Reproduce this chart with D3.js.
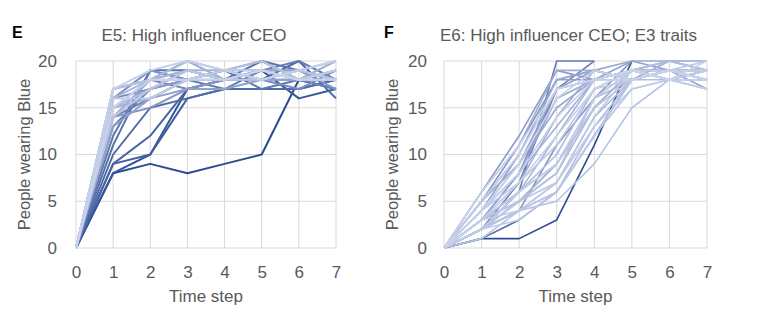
<!DOCTYPE html>
<html><head><meta charset="utf-8">
<script src="https://cdn.jsdelivr.net/npm/d3@7"></script>
<style>body{margin:0;background:#fff}svg{display:block}text{font-family:"Liberation Sans",Arial,sans-serif}</style>
</head><body><svg id="c" width="763" height="323"></svg>
<script>
const timeSteps = [0,1,2,3,4,5,6,7];
const yTicks = [0,5,10,15,20];
const panelLetters = ["E","F"];
const panelTitles = ["E5: High influencer CEO","E6: High influencer CEO; E3 traits"];
const xAxisTitle = "Time step";
const yAxisTitle = "People wearing Blue";

// E5 runs (dark -> light)
const e5Runs = [
  [0,8,9,8,9,10,18,17],
  [0,8,10,17,18,19,16,17],
  [0,9,10,16,17,17,17,18],
  [0,9,12,17,18,18,20,16],
  [0,10,15,16,17,17,17,18],
  [0,11,19,19,18,20,19,18],
  [0,12,19,18,19,17,18,17],
  [0,13,17,18,17,19,20,18],
  [0,14,16,18,19,20,18,17],
  [0,15,18,17,18,19,19,18],
  [0,16,17,19,18,18,17,19],
  [0,16,19,18,18,19,19,18],
  [0,14,15,17,18,18,19,17],
  [0,15,17,18,19,18,18,19],
  [0,13,16,17,17,18,18,18],
  [0,17,18,19,18,19,18,19],
  [0,14,18,20,18,19,19,18],
  [0,15,16,18,19,19,18,20],
  [0,17,18,19,19,18,19,18],
  [0,16,18,20,19,18,19,20],
  [0,15,17,19,18,19,18,18],
  [0,17,18,18,19,20,18,19],
  [0,14,17,19,18,18,19,18],
  [0,16,16,18,19,19,18,19],
  [0,17,19,20,19,18,19,20],
  [0,15,18,18,18,19,18,18]
];

// E6 runs (dark -> light); null = run finished
const e6Runs = [
  [0,1,1,3,11,20,null,null],
  [0,1,3,6,12,18,19,19],
  [0,2,6,20,20,null,null,null],
  [0,2,7,17,20,null,null,null],
  [0,3,8,17,18,19,19,18],
  [0,2,5,9,15,19,19,19],
  [0,2,4,11,16,20,null,null],
  [0,5,11,18,19,18,19,18],
  [0,6,12,19,18,19,20,19],
  [0,4,10,18,18,19,18,19],
  [0,5,9,17,19,18,19,17],
  [0,3,8,16,18,20,19,18],
  [0,4,9,15,18,19,18,19],
  [0,5,10,18,19,20,20,20],
  [0,6,11,19,19,18,19,18],
  [0,3,7,14,19,18,20,19],
  [0,4,8,13,18,19,18,17],
  [0,5,9,16,18,19,20,19],
  [0,3,6,12,18,18,19,18],
  [0,2,5,9,16,18,19,18],
  [0,3,5,8,15,19,18,18],
  [0,2,4,7,14,18,19,19],
  [0,3,6,10,17,19,18,17],
  [0,2,4,6,13,18,18,19],
  [0,3,5,8,16,19,20,19],
  [0,1,4,5,9,15,18,18],
  [0,2,4,6,12,17,18,17],
  [0,3,6,9,15,18,19,18],
  [0,2,5,7,14,19,18,19],
  [0,4,7,11,17,18,19,20],
  [0,2,3,6,12,18,19,18],
  [0,3,4,7,13,17,18,19],
  [0,2,6,9,16,19,19,18],
  [0,4,8,14,18,19,18,18],
  [0,5,10,17,18,18,19,19],
  [0,3,7,12,17,19,18,17],
  [0,4,9,16,19,18,19,18],
  [0,6,11,17,18,19,18,20]
];

const svg = d3.select("#c");
const grey = "#595959";

const panels = [
  {left:76, right:336, letterX:12, runs:e5Runs, yLabX:57, yTitleX:30, exp:0.8, width:2},
  {left:444, right:707, letterX:384, runs:e6Runs, yLabX:427, yTitleX:398, exp:0.35, width:1.6}
];
const plotTop = 61, plotBottom = 248;

panels.forEach((p,pi)=>{
  const x = d3.scaleLinear().domain([0,7]).range([p.left,p.right]);
  const y = d3.scaleLinear().domain([0,20]).range([plotBottom,plotTop]);
  const g = svg.append("g");
  g.selectAll(".vg").data(timeSteps).join("line")
    .attr("x1",d=>x(d)).attr("x2",d=>x(d)).attr("y1",plotTop).attr("y2",plotBottom)
    .attr("stroke","#d9d9d9").attr("stroke-width",1);
  g.selectAll(".hg").data(yTicks).join("line")
    .attr("x1",p.left).attr("x2",p.right).attr("y1",d=>y(d)).attr("y2",d=>y(d))
    .attr("stroke","#d9d9d9").attr("stroke-width",1);
  const xa = g.append("g").attr("transform",`translate(0,${plotBottom})`)
    .call(d3.axisBottom(x).tickValues(timeSteps).tickSize(0).tickPadding(18).tickFormat(d3.format("d")));
  xa.select(".domain").remove();
  xa.selectAll("text").attr("fill",grey).style("font-size","17px");
  const ya = g.append("g").attr("transform",`translate(${p.left},0)`)
    .call(d3.axisLeft(y).tickValues(yTicks).tickSize(0).tickPadding(p.left-p.yLabX));
  ya.select(".domain").remove();
  ya.selectAll("text").attr("fill",grey).style("font-size","17px");
  const n = p.runs.length;
  const t = d3.scalePow().exponent(p.exp).domain([0,n-1]).range([0,1]);
  const col = d3.interpolateRgb("#2b4c93","#cbd3ec");
  const line = d3.line().defined(d=>d!=null).x((d,i)=>x(timeSteps[i])).y(d=>y(d));
  g.selectAll(".run").data(p.runs).join("path")
    .attr("d",d=>line(d)).attr("fill","none")
    .attr("stroke",(d,i)=>col(t(i))).attr("stroke-width",p.width)
    .attr("stroke-linejoin","round");
  svg.append("text").attr("x",p.letterX).attr("y",38).text(panelLetters[pi])
    .style("font-weight","bold").style("font-size","16px").attr("fill","#000");
  svg.append("text").attr("x",(p.left+p.right)/2 - (pi?7:12)).attr("y",41).attr("text-anchor","middle")
    .text(panelTitles[pi]).attr("fill",grey).style("font-size","17px");
  svg.append("text").attr("x",(p.left+p.right)/2).attr("y",302).attr("text-anchor","middle")
    .text(xAxisTitle).attr("fill",grey).style("font-size","17px");
  svg.append("text").attr("transform",`translate(${p.yTitleX},${(plotTop+plotBottom)/2}) rotate(-90)`)
    .attr("text-anchor","middle").text(yAxisTitle).attr("fill",grey).style("font-size","16.5px");
});
</script></body></html>
